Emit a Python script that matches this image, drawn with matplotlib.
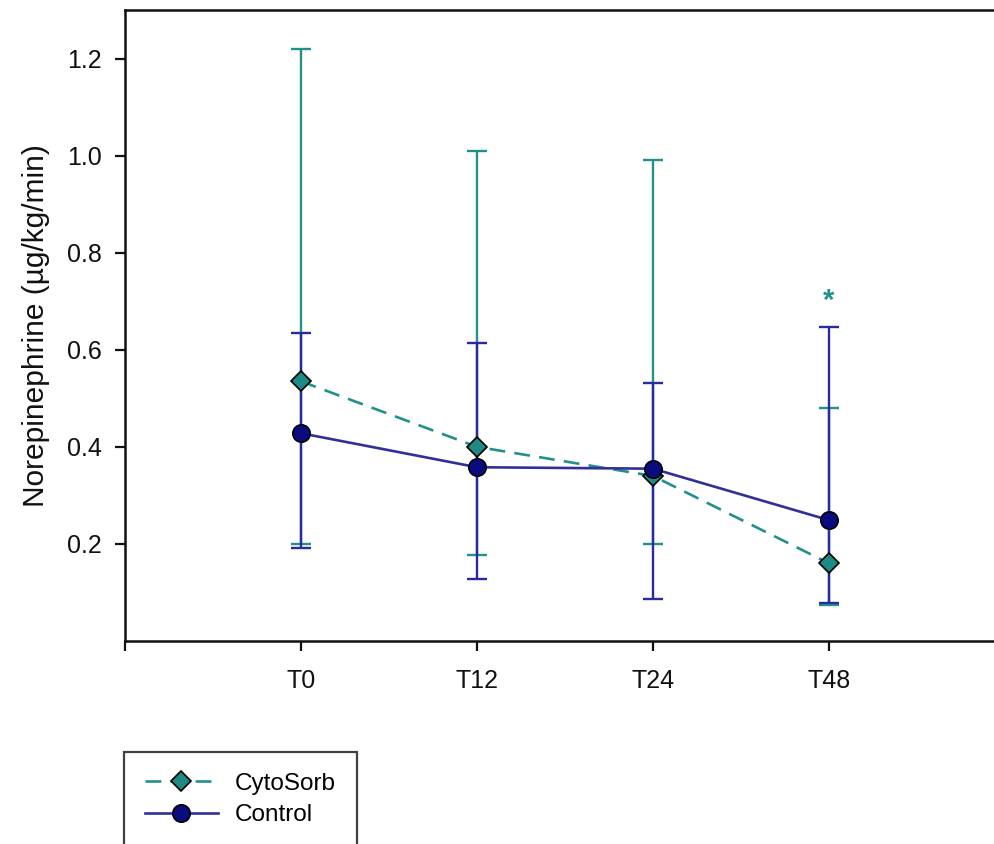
import numpy as np
from matplotlib import pyplot as plt

plt.rcParams['font.family'] = ['Liberation Sans', 'DejaVu Sans']

# time points
timepoints = ["T0", "T12", "T24", "T48"]

# CytoSorb group: mean and error bar ends
cyto_mean = [0.535, 0.400, 0.340, 0.160]
cyto_upper = [1.220, 1.010, 0.990, 0.480]
cyto_lower = [0.200, 0.177, 0.200, 0.074]

# Control group
ctrl_mean = [0.428, 0.358, 0.355, 0.249]
ctrl_upper = [0.634, 0.613, 0.531, 0.647]
ctrl_lower = [0.192, 0.128, 0.086, 0.079]

# significance marker
star_x = 3
star_y = 0.70

teal = '#23918b'
teal_fill = '#1f8a85'
navy = '#2a2aa0'
navy_fill = '#0b0b80'

fig = plt.figure(figsize=(9.94, 8.44), dpi=100)
ax = fig.add_axes([125 / 994, 1 - 641 / 844, 880 / 994, 631 / 844])

x = np.arange(len(timepoints))
cyto_mean = np.array(cyto_mean)
ctrl_mean = np.array(ctrl_mean)

# error bars first, control on top of cytosorb
cyto_err = [cyto_mean - np.array(cyto_lower), np.array(cyto_upper) - cyto_mean]
ctrl_err = [ctrl_mean - np.array(ctrl_lower), np.array(ctrl_upper) - ctrl_mean]

ax.errorbar(x, cyto_mean, yerr=cyto_err, fmt='none', ecolor=teal,
            elinewidth=1.7, capsize=7.5, capthick=1.7, zorder=2)
ax.errorbar(x, ctrl_mean, yerr=ctrl_err, fmt='none', ecolor=navy,
            elinewidth=1.7, capsize=7.5, capthick=1.7, zorder=3)

ax.plot(x, cyto_mean, color=teal, linestyle=(0, (6, 3.5)), linewidth=1.9,
        marker='D', markersize=10, markerfacecolor=teal_fill,
        markeredgecolor='black', markeredgewidth=1.2, label='CytoSorb', zorder=4)
ax.plot(x, ctrl_mean, color='#30309a', linestyle='-', linewidth=1.9,
        marker='o', markersize=12.5, markerfacecolor=navy_fill,
        markeredgecolor='black', markeredgewidth=1.2, label='Control', zorder=5)

ax.text(star_x, star_y, '*', color=teal, fontsize=21, fontweight='bold',
        ha='center', va='center')

ax.set_xlim(-1, 4)
ax.set_ylim(0, 1.3)
ax.set_xticks([-1, 0, 1, 2, 3])
ax.set_xticklabels([''] + timepoints)
ax.set_yticks([0.2, 0.4, 0.6, 0.8, 1.0, 1.2])
ax.set_yticklabels(['0.2', '0.4', '0.6', '0.8', '1.0', '1.2'])

for side in ['left', 'bottom', 'top', 'right']:
    ax.spines[side].set_linewidth(1.8)
    ax.spines[side].set_color('#111111')

ax.tick_params(axis='both', direction='out', length=7.5, width=1.6,
               labelsize=18, colors='#111111')
ax.tick_params(axis='y', pad=9)
ax.tick_params(axis='x', pad=13)

ax.set_ylabel("Norepinephrine (µg/kg/min)", fontsize=21.5, color='#111111')
ax.yaxis.set_label_coords(-0.085, 0.5)

leg = fig.legend(loc='upper left', bbox_to_anchor=(124 / 994, 1 - 752 / 844),
                 bbox_transform=fig.transFigure, borderaxespad=0,
                 fontsize=17.5, handlelength=3.0, handletextpad=0.72,
                 labelspacing=0.4, borderpad=0.85, fancybox=False,
                 frameon=True)
leg.get_frame().set_edgecolor('#111111')
leg.get_frame().set_linewidth(1.6)

fig.savefig("out.png", dpi=100)
